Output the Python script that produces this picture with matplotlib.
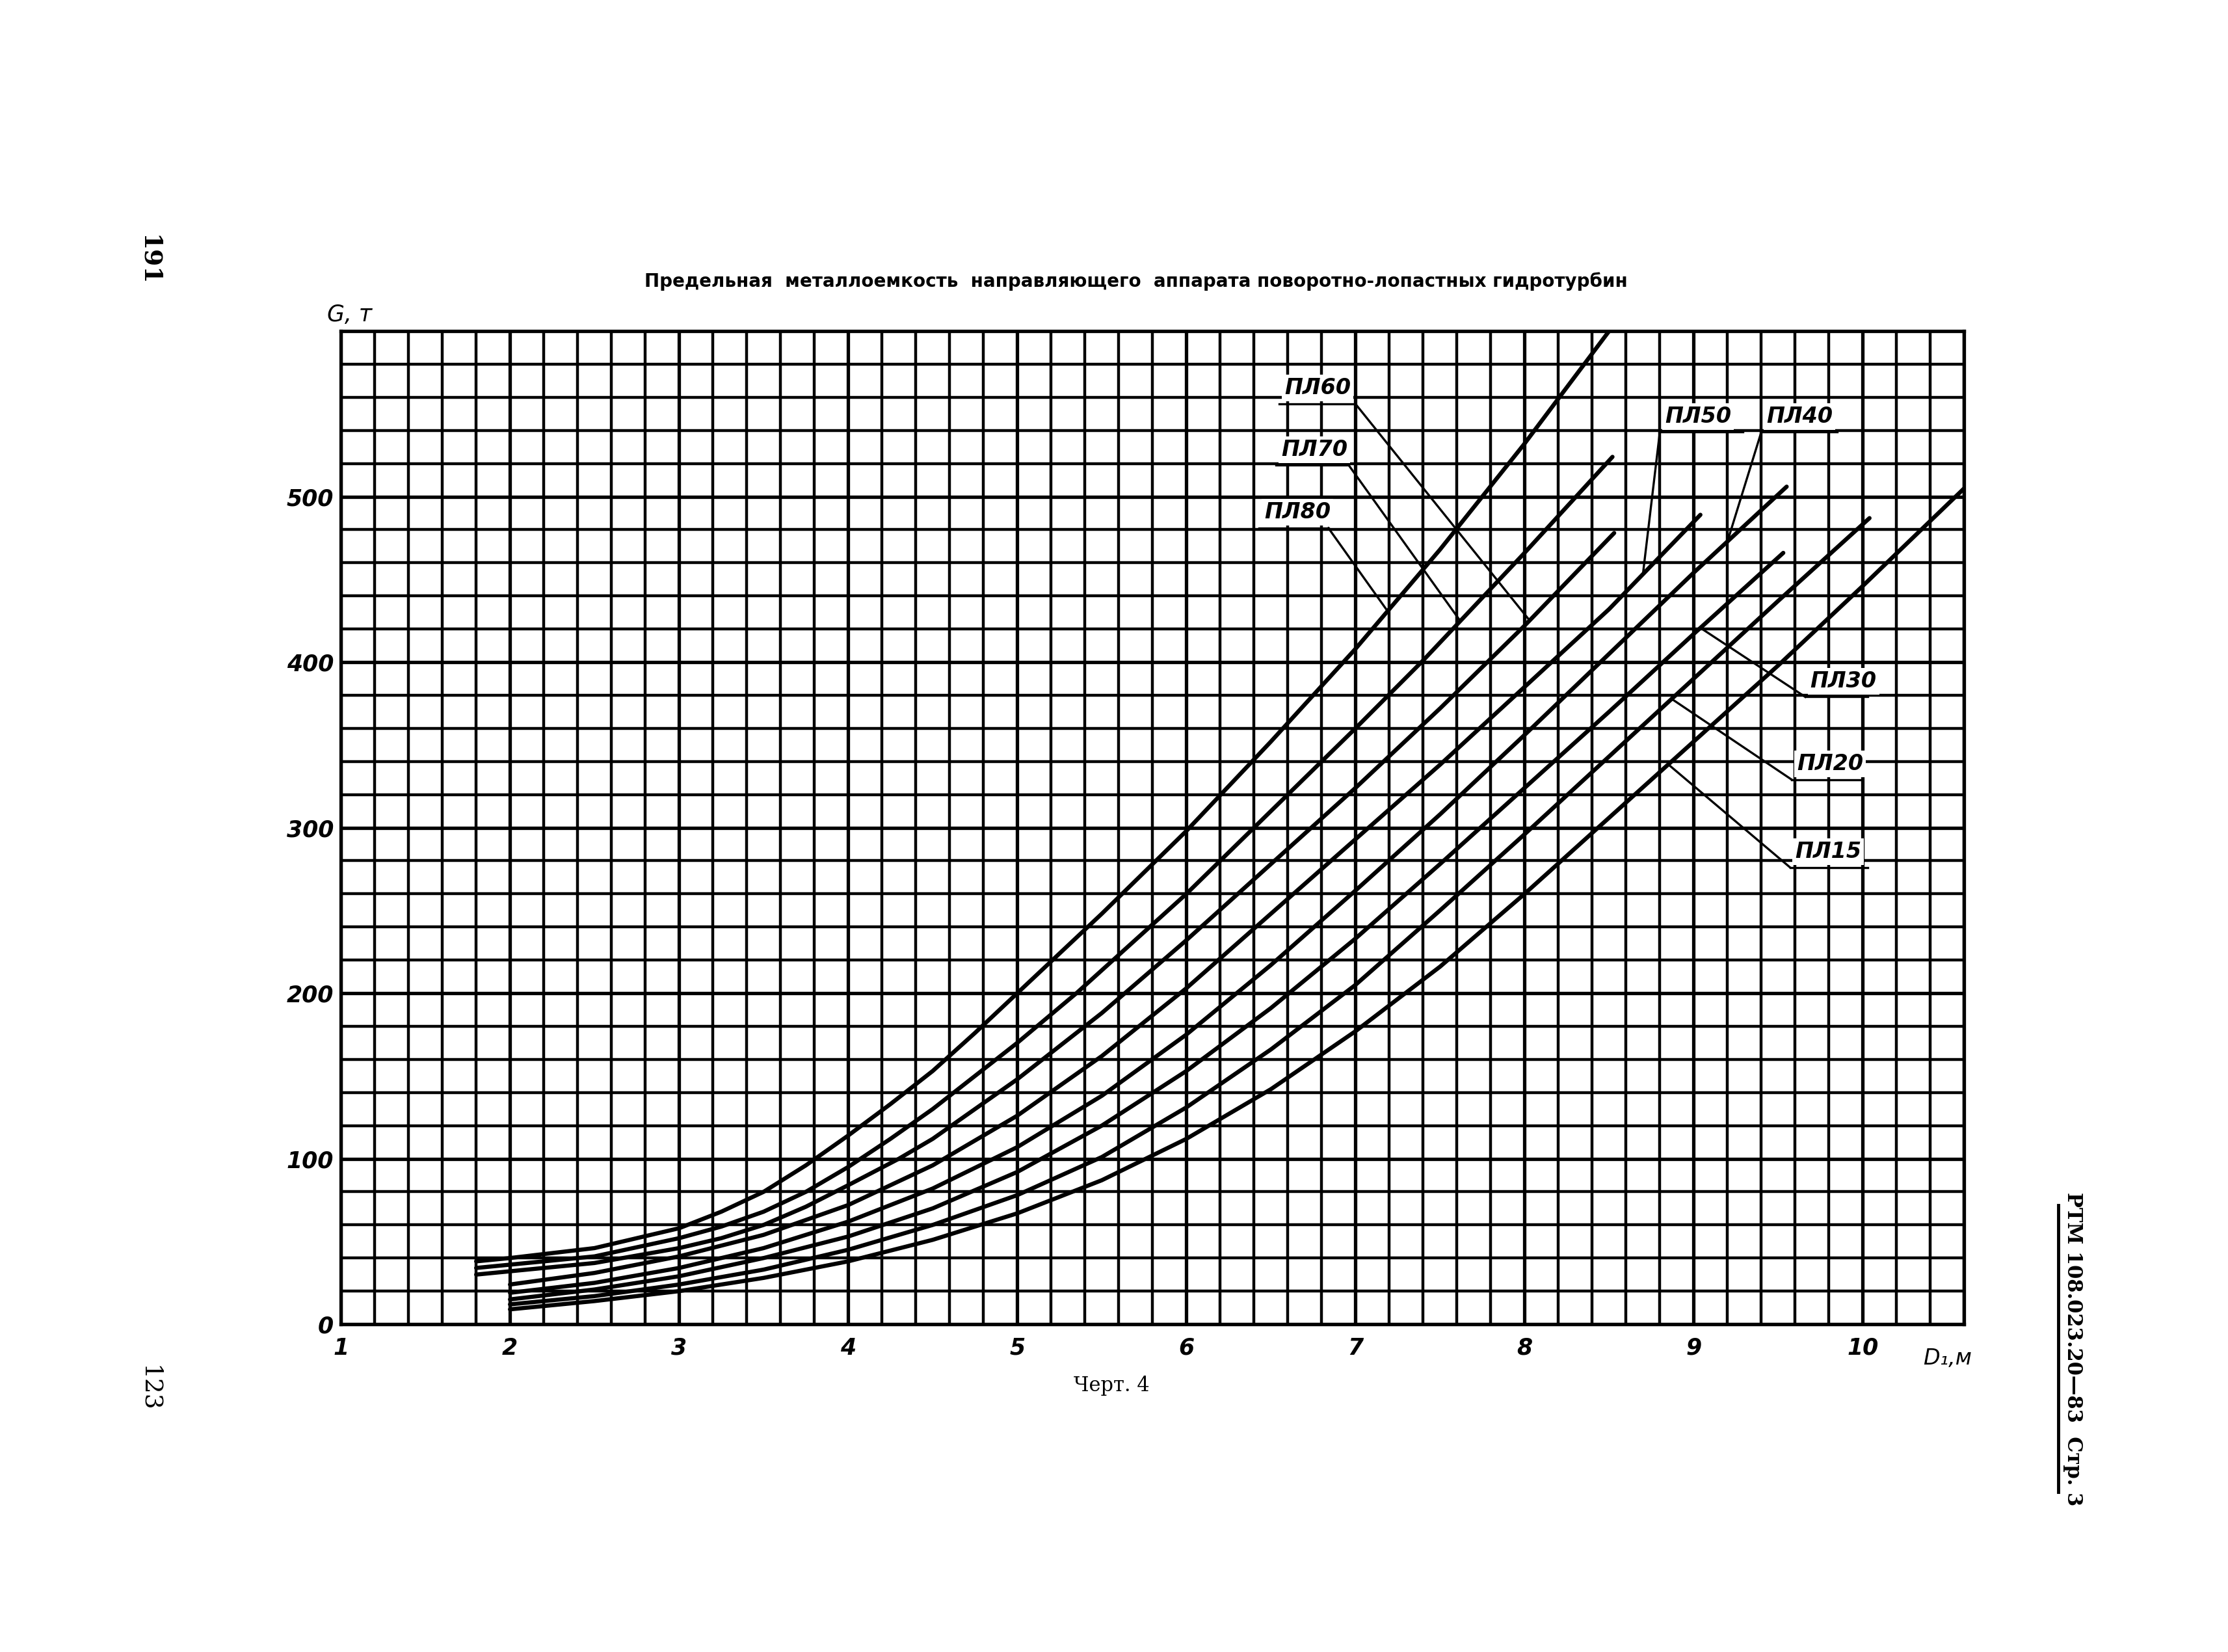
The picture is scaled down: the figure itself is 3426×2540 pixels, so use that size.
import numpy as np
import matplotlib.pyplot as plt
from matplotlib.ticker import MultipleLocator
from matplotlib.lines import Line2D

## values: D1 (m) and G (t) for each turbine series
d_pl80 = [1.8, 2.0, 2.5, 3.0, 3.25, 3.5, 3.75, 4.0, 4.25, 4.5, 4.75, 5.0, 5.5, 6.0, 6.5, 7.0, 7.5, 8.0, 8.5]
g_pl80 = [38, 40, 46, 58, 68, 80, 96, 114, 133, 153, 176, 200, 248, 298, 352, 408, 468, 532, 600]

d_pl70 = [1.8, 2.0, 2.5, 3.0, 3.25, 3.5, 3.75, 4.0, 4.25, 4.5, 5.0, 5.35, 6.0, 6.4, 7.0, 7.4, 8.0, 8.52]
g_pl70 = [34, 36, 41, 52, 59, 68, 80, 95, 112, 130, 170, 200, 260, 300, 360, 401, 466, 524]

d_pl60 = [1.8, 2.0, 2.5, 3.0, 3.25, 3.5, 3.75, 4.0, 4.3, 4.5, 5.0, 5.5, 6.0, 6.5, 7.0, 7.5, 8.0, 8.53]
g_pl60 = [30, 32, 37, 46, 52, 60, 71, 84, 100, 112, 148, 188, 232, 278, 324, 372, 422, 478]

d_pl50 = [2.0, 2.5, 3.0, 3.5, 4.0, 4.5, 5.0, 5.5, 6.0, 6.5, 7.0, 7.5, 8.0, 8.5, 9.04]
g_pl50 = [24, 31, 41, 54, 72, 96, 126, 162, 203, 248, 293, 338, 385, 432, 489]

d_pl40 = [2.0, 2.5, 3.0, 3.5, 4.0, 4.5, 5.0, 5.5, 6.0, 6.5, 7.0, 7.5, 8.0, 8.5, 9.0, 9.55]
g_pl40 = [19, 25, 34, 46, 62, 82, 107, 138, 175, 217, 262, 308, 356, 405, 454, 506]

d_pl30 = [2.0, 2.5, 3.0, 3.5, 4.0, 4.5, 5.0, 5.5, 6.0, 6.5, 7.0, 7.5, 8.0, 8.5, 9.0, 9.53]
g_pl30 = [15, 21, 29, 40, 53, 70, 92, 120, 153, 191, 233, 278, 324, 370, 417, 466]

d_pl20 = [2.0, 2.5, 3.0, 3.5, 4.0, 4.5, 5.0, 5.5, 6.0, 6.5, 7.0, 7.5, 8.0, 8.5, 9.0, 9.5, 10.04]
g_pl20 = [12, 17, 24, 33, 45, 60, 78, 101, 131, 166, 205, 250, 296, 343, 390, 437, 487]

d_pl15 = [2.0, 2.5, 3.0, 3.5, 4.0, 4.5, 5.0, 5.5, 6.0, 6.5, 7.0, 7.5, 8.0, 8.5, 9.0, 9.5, 10.0, 10.6]
g_pl15 = [9, 14, 20, 28, 38, 51, 67, 87, 112, 142, 177, 216, 260, 306, 352, 398, 446, 505]

series = [d_pl80, d_pl70, d_pl60, d_pl50, d_pl40, d_pl30, d_pl20, d_pl15]
values = [g_pl80, g_pl70, g_pl60, g_pl50, g_pl40, g_pl30, g_pl20, g_pl15]
names = ['ПЛ80', 'ПЛ70', 'ПЛ60', 'ПЛ50', 'ПЛ40', 'ПЛ30', 'ПЛ20', 'ПЛ15']

x_ticks = [1, 2, 3, 4, 5, 6, 7, 8, 9, 10]
y_ticks = [0, 100, 200, 300, 400, 500]

hand = ['Liberation Sans Narrow', 'DejaVu Sans']

fig = plt.figure(figsize=(34.26, 25.40), dpi=100)
ax = fig.add_axes([0.153, 0.1984, 0.7286, 0.6012])

ax.set_xlim(1, 10.6)
ax.set_ylim(0, 600)
ax.xaxis.set_major_locator(MultipleLocator(1))
ax.xaxis.set_minor_locator(MultipleLocator(0.2))
ax.yaxis.set_major_locator(MultipleLocator(100))
ax.yaxis.set_minor_locator(MultipleLocator(20))
ax.grid(which='major', color='black', lw=3.8)
ax.grid(which='minor', color='black', lw=3.2)
ax.set_axisbelow(True)
for s in ax.spines.values():
    s.set_linewidth(3.8)

ax.set_xticks(x_ticks)
ax.set_xticklabels([str(v) for v in x_ticks])
ax.set_yticks(y_ticks)
ax.set_yticklabels([str(v) for v in y_ticks])
ax.tick_params(which='both', length=0)
ax.tick_params(axis='x', pad=14)
ax.tick_params(axis='y', pad=8)
for t in ax.get_xticklabels() + ax.get_yticklabels():
    t.set_family(hand)
    t.set_style('italic')
    t.set_weight('bold')
    t.set_fontsize(25)

for d, g in zip(series, values):
    ax.plot(d, g, color='black', lw=4.6, solid_capstyle='round',
            solid_joinstyle='round', zorder=3)

# callouts: underline x0, x1, height, leader start x, point on curve
callouts = [
    (6.43, 6.84, 481, 6.84, 7.19),
    (6.53, 6.96, 519, 6.96, 7.62),
    (6.55, 7.00, 556, 7.00, 8.03),
    (8.80, 9.29, 539, 8.80, 8.70),
    (9.40, 9.85, 539, 9.40, 9.20),
    (9.66, 10.03, 379, 9.66, 9.04),
    (9.58, 10.00, 329, 9.58, 8.87),
    (9.57, 10.03, 276, 9.57, 8.85),
]
for name, d, g, (x0, x1, yl, xs, xt) in zip(names, series, values, callouts):
    yt = np.interp(xt, d, g)
    ax.text(x0 + 0.03, yl + 3, name, ha='left', va='bottom', family=hand,
            style='italic', weight='bold', fontsize=24, zorder=5,
            bbox=dict(facecolor='white', edgecolor='none', pad=3))
    ax.plot([x0, x1], [yl, yl], color='black', lw=2.4, zorder=5)
    ax.plot([xs, xt], [yl, yt], color='black', lw=2.4, zorder=4)

ax.text(1.05, 603, 'G, т', ha='center', va='bottom', family=hand,
        style='italic', fontsize=25)
ax.text(10.5, -14, 'D\u2081,м', ha='center', va='top', family=hand,
        style='italic', fontsize=24)

fig.text(0.510, 0.8295, 'Предельная  металлоемкость  направляющего  аппарата поворотно-лопастных гидротурбин',
         ha='center', va='center', family=hand, weight='bold', fontsize=20)
fig.text(0.499, 0.1614, 'Черт. 4', ha='center', va='center',
         family='DejaVu Serif', fontsize=22)

fig.text(0.0668, 0.8425, '191', ha='center', va='center', rotation=-90,
         family='DejaVu Serif', weight='bold', fontsize=27)
fig.text(0.0668, 0.1594, '123', ha='center', va='center', rotation=-90,
         family='DejaVu Serif', fontsize=27)
fig.text(0.9305, 0.1835, 'РТМ 108.023.20—83  Стр. 3', ha='center', va='center',
         rotation=-90, family='DejaVu Serif', weight='bold', fontsize=22)
fig.add_artist(Line2D([0.9238, 0.9238], [0.0969, 0.2705], color='black', lw=3.5))

plt.savefig('out.png', dpi=100, facecolor='white')
